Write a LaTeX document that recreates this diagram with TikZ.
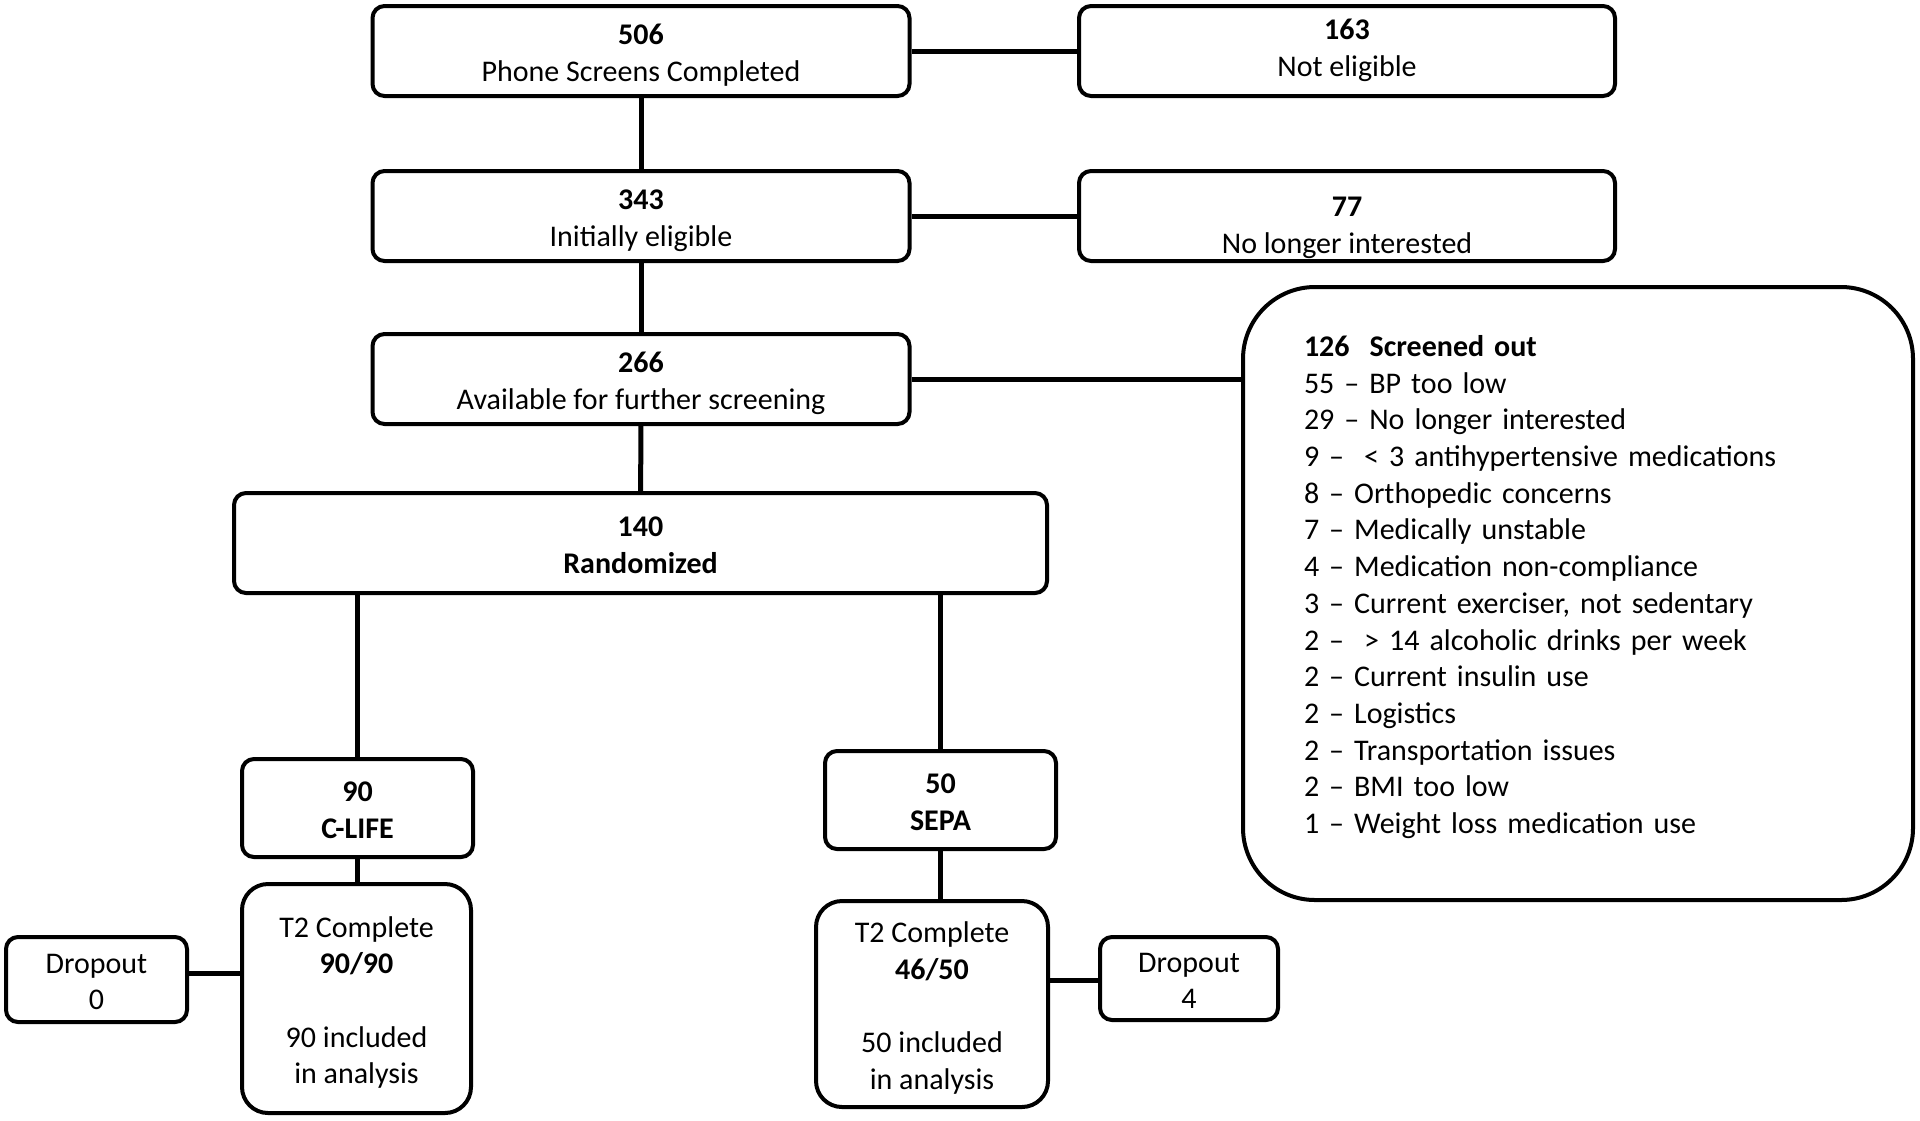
\documentclass[tikz,border=0pt]{standalone}
\usepackage{fontspec}
\setmainfont{Carlito}
\usepackage{tikz}

% word-like line boxes for the first and the last line of a box
\newcommand{\wtop}{\rule{0pt}{15.3pt}}
\newcommand{\wbot}{\rule[-3.3pt]{0pt}{3.3pt}}

\begin{document}
\begin{tikzpicture}[x=0.5pt, y=-0.5pt,
		every node/.style={font=\fontsize{15}{18.35}\selectfont},
		box/.style={draw, line width=2pt, rounded corners=6pt, align=center, inner sep=0pt},
		bigbox/.style={draw, line width=2pt, rounded corners=36pt, align=left, inner ysep=0pt, inner xsep=30.5pt,
			execute at end node={\rule[-9pt]{0pt}{9pt}}},
		endbox/.style={draw, line width=2pt, rounded corners=13pt, align=center, inner sep=0pt},
		link/.style={line width=2.5pt}]
			\useasboundingbox (0, 0) rectangle (1920, 1120);
			\fill[white] (0, 0) rectangle (1920, 1120);

			\draw (641, 51) 	node[box, minimum width=268.5pt, minimum height=45pt] 	(phone) 	{\wtop\textbf{506}\\Phone Screens Completed\wbot};
			\draw (1347, 51) 	node[box, minimum width=268pt, minimum height=45pt] 	(noteli) 	{\textbf{163}\\Not eligible\wbot};
			\draw (641, 216) 	node[box, minimum width=268.5pt, minimum height=45pt] 	(initial) 	{\wtop\textbf{343}\\Initially eligible\wbot};
			\draw (1347, 216) 	node[box, minimum width=268pt, minimum height=45pt] 	(nolonger) 	{\rule{0pt}{22.6pt}\textbf{77}\\No longer interested\wbot};
			\draw (641, 379) 	node[box, minimum width=268.5pt, minimum height=45pt] 	(avail) 	{\wtop\textbf{266}\\Available for further screening\wbot};
			\draw (1578, 593.5) 	node[bigbox, text width=274pt, minimum height=306.5pt] 	(screened) 	{\textbf{126\ \ Screened out}\\
				55 – BP too low\\
				29 – No longer interested\\
				9 –\ \ < 3 antihypertensive medications\\
				8 – Orthopedic concerns\\
				7 – Medically unstable\\
				4 – Medication non-compliance\\
				3 – Current exerciser, not sedentary\\
				2 –\ \ > 14 alcoholic drinks per week\\
				2 – Current insulin use\\
				2 – Logistics\\
				2 – Transportation issues\\
				2 – BMI too low\\
				1 – Weight loss medication use};
			\draw (640.5, 543) 	node[box, minimum width=406.5pt, minimum height=50pt] 	(random) 	{\wtop\textbf{140}\\\textbf{Randomized}\wbot};
			\draw (357.5, 808) 	node[box, minimum width=115.5pt, minimum height=49pt] 	(clife) 	{\wtop\textbf{90}\\\textbf{C-LIFE}\wbot};
			\draw (940.5, 800) 	node[box, minimum width=115.5pt, minimum height=49pt] 	(sepa) 		{\wtop\textbf{50}\\\textbf{SEPA}\wbot};
			\draw (356.5, 998.5) 	node[endbox, minimum width=114.5pt, minimum height=114.5pt] 	(t2clife) 	{\wtop T2 Complete\\\textbf{90/90}\\~\\90 included\\in analysis\wbot};
			\draw (932, 1004) 	node[endbox, minimum width=116pt, minimum height=103pt] 	(t2sepa) 	{\wtop T2 Complete\\\textbf{46/50}\\~\\50 included\\in analysis\wbot};
			\draw (96.5, 979.5) 	node[box, minimum width=90.5pt, minimum height=42.5pt] 	(dropclife) 	{\wtop Dropout\\0\wbot};
			\draw (1189, 978.5) 	node[box, minimum width=89pt, minimum height=41.5pt] 	(dropsepa) 	{\wtop Dropout\\4\wbot};

			\draw[link] (phone) -- (noteli);
			\draw[link] (phone) -- (initial);
			\draw[link] (initial) -- (nolonger);
			\draw[link] (initial) -- (avail);
			\draw[link] (avail.east) -- (avail.east -| screened.west);
			\draw[link] (avail) -- (random);
			\draw[link] (clife.north |- random.south) -- (clife);
			\draw[link] (sepa.north |- random.south) -- (sepa);
			\draw[link] (clife) -- (clife |- t2clife.north);
			\draw[link] (sepa) -- (sepa |- t2sepa.north);
			\draw[link] ([yshift=3pt]dropclife.east) -- ([yshift=3pt]dropclife.east -| t2clife.west);
			\draw[link] ([yshift=-1pt]dropsepa.west) -- ([yshift=-1pt]dropsepa.west -| t2sepa.east);
		\end{tikzpicture}
\end{document}
